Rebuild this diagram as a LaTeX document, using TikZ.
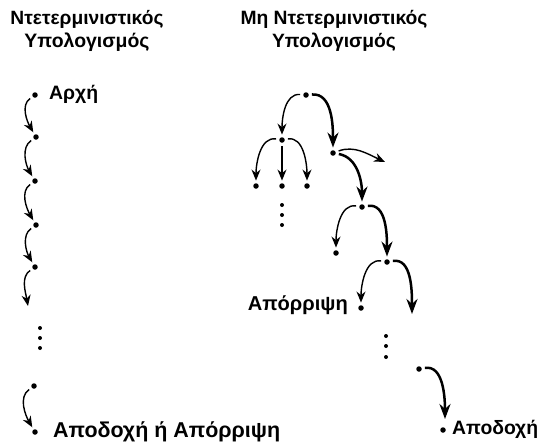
\documentclass[tikz,border=0pt]{standalone}
\usepackage{fontspec}
\usepackage{graphicx}
\setmainfont{Liberation Sans}
\usetikzlibrary{arrows.meta}
\newsavebox\fitbox
\newcommand\fitw[2]{\sbox\fitbox{#2}\pgfmathsetmacro\fitfac{#1/\the\wd\fitbox}\scalebox{\fitfac}{\usebox\fitbox}}
\begin{document}
\begin{tikzpicture}[x=1pt,y=-1pt,
  dotnode/.style={circle,fill=black,inner sep=0pt,minimum size=5.5pt},
  lbl/.style={font=\bfseries\fontsize{16}{23}\selectfont,inner sep=0pt,align=center},
  thinarr/.style={-{Stealth[length=11pt,width=9pt]},line width=1.4pt,shorten <=3pt,shorten >=2.5pt},
  boldarr/.style={-{Stealth[length=15pt,width=11pt]},line width=2.5pt,shorten <=3pt,shorten >=2.5pt},
  vdot/.style={circle,fill=black,inner sep=0pt,minimum size=4pt}]
\useasboundingbox (0,0) rectangle (539,445);
% titles
\node[lbl] (t1) at (87,31) {\fitw{153}{Ντετερμινιστικός}\\\fitw{125}{Υπολογισμός}};
\node[lbl] (t2) at (334,31) {\fitw{187}{Μη Ντετερμινιστικός}\\\fitw{124}{Υπολογισμός}};
% left chain
\node[dotnode] (L0) at (35,95) {};
\node[dotnode] (L1) at (36,137) {};
\node[dotnode] (L2) at (35,181) {};
\node[dotnode] (L3) at (36,225) {};
\node[dotnode] (L4) at (35,267) {};
\coordinate (L4e) at (28,306);
\node[vdot] (v1) at (40,328) {};
\node[vdot] (v2) at (40,338) {};
\node[vdot] (v3) at (40,348) {};
\node[dotnode] (L5) at (34,386) {};
\node[dotnode] (L6) at (35,432) {};
\node[lbl,anchor=west] (arxi) at (49,94) {\fitw{49}{Αρχή}};
\node[lbl,anchor=west] (telos) at (53,432) {\fitw{227}{Αποδοχή ή Απόρριψη}};
\draw[thinarr] (L0) to[out=215,in=120] (L1);
\draw[thinarr] (L1) to[out=215,in=120] (L2);
\draw[thinarr] (L2) to[out=215,in=120] (L3);
\draw[thinarr] (L3) to[out=215,in=120] (L4);
\draw[thinarr,shorten >=0pt] (L4) to[out=215,in=100] (L4e);
\draw[thinarr] (L5) to[out=215,in=120] (L6);
% tree
\node[dotnode] (r0) at (306,95) {};
\node[dotnode] (a) at (282,140) {};
\node[dotnode] (b) at (333,153) {};
\node[dotnode] (a1) at (256,186) {};
\node[dotnode] (a2) at (282,186) {};
\node[dotnode] (a3) at (307,186) {};
\node[vdot] (w1) at (282,205) {};
\node[vdot] (w2) at (282,215) {};
\node[vdot] (w3) at (282,225) {};
\coordinate (be) at (385,162);
\node[dotnode] (c) at (362,207) {};
\node[dotnode] (d) at (336,253) {};
\node[dotnode] (e) at (387,262) {};
\node[dotnode] (f) at (361,308) {};
\coordinate (ee) at (412,314);
\node[vdot] (u1) at (386,336) {};
\node[vdot] (u2) at (386,346) {};
\node[vdot] (u3) at (386,357) {};
\node[dotnode] (g) at (419,369) {};
\node[dotnode] (h) at (443,430) {};
\coordinate (ge) at (445,419);
\node[lbl,anchor=east] (aporr) at (348,305) {\fitw{100}{Απόρριψη}};
\node[lbl,anchor=west] (apod) at (452,429) {\fitw{86}{Αποδοχή}};
\draw[thinarr] (r0) to[out=175,in=90] (a);
\draw[boldarr] (r0) to[out=5,in=90] (b);
\draw[thinarr] (a) to[out=170,in=90] (a1);
\draw[thinarr] (a) -- (a2);
\draw[thinarr] (a) to[out=10,in=90] (a3);
\draw[thinarr,shorten >=0pt] (b) to[out=20,in=155] (be);
\draw[boldarr] (b) to[out=-10,in=90] (c);
\draw[thinarr] (c) to[out=170,in=90] (d);
\draw[boldarr] (c) to[out=10,in=90] (e);
\draw[thinarr] (e) to[out=170,in=90] (f);
\draw[boldarr,shorten >=0pt] (e) to[out=10,in=90] (ee);
\draw[boldarr,shorten >=0pt] (g) to[out=10,in=90] (ge);
\end{tikzpicture}
\end{document}
